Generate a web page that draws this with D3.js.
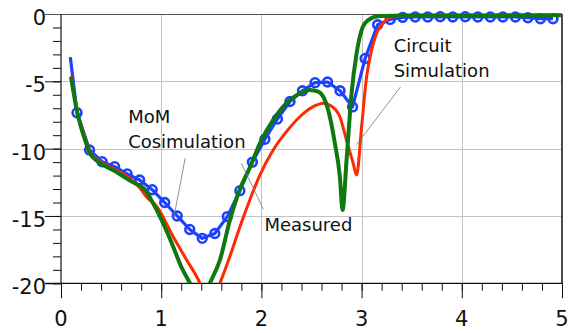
<!DOCTYPE html>
<html>
<head>
<meta charset="utf-8">
<script src="https://cdn.jsdelivr.net/npm/d3@7"></script>
<style>
  html, body { margin: 0; padding: 0; background: #fff; }
  svg { display: block; }
  text { font-family: "DejaVu Sans", sans-serif; }
</style>
</head>
<body>
<svg id="chart" width="570" height="333"></svg>
<script>
// ---- data ----
const xTicks = [0, 1, 2, 3, 4, 5];
const yTicks = [-20, -15, -10, -5, 0];
const xTickLabels = ["0", "1", "2", "3", "4", "5"];
const yTickLabels = ["-20", "-15", "-10", "-5", "0"];

// MoM Cosimulation (blue, markers on every point except the first)
const momX = [0.093, 0.16, 0.285, 0.41, 0.535, 0.66, 0.785, 0.91, 1.035, 1.16, 1.285, 1.41, 1.535, 1.66, 1.785, 1.91, 2.035, 2.16, 2.285, 2.41, 2.535, 2.66, 2.785, 2.91, 3.035, 3.16, 3.285, 3.41, 3.535, 3.66, 3.785, 3.91, 4.035, 4.16, 4.285, 4.41, 4.535, 4.66, 4.785, 4.91];
const momY = [-3.2, -7.33, -10.1, -10.97, -11.34, -11.88, -12.33, -13.05, -14.0, -15.0, -16.0, -16.66, -16.3, -15.05, -13.12, -11.0, -9.3, -7.8, -6.5, -5.7, -5.1, -5.05, -5.7, -6.9, -3.3, -0.8, -0.4, -0.25, -0.22, -0.22, -0.2, -0.22, -0.2, -0.22, -0.22, -0.22, -0.22, -0.28, -0.35, -0.35];

// Measured (green)
const measX = [0.10, 0.157, 0.24, 0.29, 0.37, 0.52, 0.705, 0.84, 0.92, 1.02, 1.12, 1.20, 1.287, 1.35, 1.43, 1.486, 1.586, 1.686, 1.786, 1.885, 1.985, 2.118, 2.25, 2.384, 2.484, 2.567, 2.633, 2.683, 2.733, 2.783, 2.81, 2.85, 2.90, 2.95, 3.0, 3.065, 3.18, 3.5, 4.0, 4.5, 5.0];
const measY = [-4.7, -7.13, -9.36, -10.35, -10.97, -11.59, -12.45, -13.07, -14.06, -15.55, -17.28, -18.77, -20, -21, -21, -20, -18.27, -15.3, -13.0, -11.4, -9.6, -7.87, -6.63, -5.89, -5.64, -5.77, -6.39, -7.63, -9.6, -12.08, -14.56, -10.84, -5.89, -2.92, -1.19, -0.45, -0.15, -0.12, -0.12, -0.1, -0.1];

// Circuit Simulation (red)
const circX = [0.10, 0.157, 0.24, 0.29, 0.37, 0.52, 0.72, 0.79, 0.855, 0.955, 1.12, 1.254, 1.387, 1.44, 1.53, 1.586, 1.686, 1.786, 1.885, 1.985, 2.118, 2.25, 2.384, 2.517, 2.617, 2.70, 2.783, 2.85, 2.916, 2.95, 3.0, 3.05, 3.10, 3.15, 3.215, 3.31, 3.6, 4.0, 4.5, 5.0];
const circY = [-4.6, -7.0, -9.2, -10.2, -10.85, -11.45, -12.4, -12.95, -13.6, -14.3, -16.54, -18.27, -20, -21, -21, -20, -18.0, -15.8, -13.8, -11.96, -10.1, -8.74, -7.63, -6.88, -6.63, -6.85, -7.63, -9.4, -11.09, -11.96, -8.37, -4.66, -2.67, -1.43, -0.69, -0.2, -0.1, -0.1, -0.1, -0.1];

// annotations: text lines, text anchor (data units), leader line from/to (data units)
const annoText = [["MoM", "Cosimulation"], ["Measured"], ["Circuit", "Simulation"]];
const annoPos = [[0.67, -8.1], [2.03, -16.1], [3.32, -2.8]];
const annoLeadFrom = [[1.24, -10.7], [1.80, -11.1], [3.39, -5.4]];
const annoLeadTo = [[1.12, -15.35], [2.02, -14.5], [2.95, -9.7]];

// ---- chart ----
const svg = d3.select("#chart");
const L = 61, R = 562, T = 14, B = 283.3;
const x = d3.scaleLinear().domain([0, 5]).range([L, R]);
const y = d3.scaleLinear().domain([-20, 0]).range([B, T]);

// grid
const grid = svg.append("g").attr("stroke", "#c4c4c4").attr("stroke-width", 1);
grid.selectAll("line.v").data([1, 2, 3, 4]).join("line")
  .attr("x1", d => Math.round(x(d)) + 0.5).attr("x2", d => Math.round(x(d)) + 0.5)
  .attr("y1", T).attr("y2", B);
grid.selectAll("line.h").data([-5, -10, -15]).join("line")
  .attr("y1", d => Math.round(y(d)) + 0.5).attr("y2", d => Math.round(y(d)) + 0.5)
  .attr("x1", L).attr("x2", R);

// axes
const xAxisMinor = d3.axisBottom(x).tickValues(d3.range(0, 5.001, 0.2)).tickSize(7.5).tickFormat("");
const xAxisMajor = d3.axisBottom(x).tickValues(xTicks).tickSize(15).tickFormat("");
const yAxisMinor = d3.axisLeft(y).tickValues(d3.range(-20, 0.001, 1)).tickSize(8).tickFormat("");
const yAxisMajor = d3.axisLeft(y).tickValues(yTicks).tickSize(16).tickFormat("");

function styleAxis(g) {
  g.select(".domain").remove();
  g.selectAll(".tick line").attr("stroke", "#111").attr("stroke-width", 1);
}
svg.append("g").attr("transform", `translate(0,${B})`).call(xAxisMinor).call(styleAxis);
svg.append("g").attr("transform", `translate(0,${B})`).call(xAxisMajor).call(styleAxis);
svg.append("g").attr("transform", `translate(${L},0)`).call(yAxisMinor).call(styleAxis);
svg.append("g").attr("transform", `translate(${L},0)`).call(yAxisMajor).call(styleAxis);

// frame
svg.append("line").attr("x1", L - 16).attr("x2", R).attr("y1", T + 0.5).attr("y2", T + 0.5).attr("stroke", "#555").attr("stroke-width", 1.2);
svg.append("line").attr("x1", L).attr("x2", L).attr("y1", T).attr("y2", B).attr("stroke", "#111").attr("stroke-width", 1.2);
svg.append("line").attr("x1", L - 16).attr("x2", R).attr("y1", B).attr("y2", B).attr("stroke", "#111").attr("stroke-width", 1.2);
svg.append("line").attr("x1", R).attr("x2", R).attr("y1", T).attr("y2", B).attr("stroke", "#111").attr("stroke-width", 1.5);

// tick labels
svg.append("g").selectAll("text").data(xTicks).join("text")
  .attr("x", d => x(d)).attr("y", 325.5).attr("text-anchor", "middle")
  .attr("font-size", 21).attr("fill", "#111").text((d, i) => xTickLabels[i]);
svg.append("g").selectAll("text").data(yTicks).join("text")
  .attr("x", 46).attr("y", d => y(d) + 11).attr("text-anchor", "end")
  .attr("font-size", 21).attr("fill", "#111").text((d, i) => yTickLabels[i]);

// clip
svg.append("clipPath").attr("id", "clip").append("rect")
  .attr("x", L).attr("y", T - 3).attr("width", R - L).attr("height", B - T + 3);
const plot = svg.append("g").attr("clip-path", "url(#clip)");

const line = d3.line().x(d => x(d[0])).y(d => y(d[1])).curve(d3.curveMonotoneX);
const lineLin = d3.line().x(d => x(d[0])).y(d => y(d[1]));

const momPts = momX.map((v, i) => [v, momY[i]]);
const measPts = measX.map((v, i) => [v, measY[i]]);
const circPts = circX.map((v, i) => [v, circY[i]]);

plot.append("path").datum(momPts).attr("d", lineLin)
  .attr("fill", "none").attr("stroke", "#1e40ff").attr("stroke-width", 3.2).attr("stroke-linejoin", "round");
plot.append("g").selectAll("circle").data(momPts.slice(1)).join("circle")
  .attr("cx", d => x(d[0])).attr("cy", d => y(d[1])).attr("r", 4.4)
  .attr("fill", "none").attr("stroke", "#1e40ff").attr("stroke-width", 2.6);
plot.append("path").datum(circPts).attr("d", line)
  .attr("fill", "none").attr("stroke", "#ff2a00").attr("stroke-width", 3).attr("stroke-linejoin", "round");
plot.append("path").datum(measPts).attr("d", line)
  .attr("fill", "none").attr("stroke", "#0f780f").attr("stroke-width", 4).attr("stroke-linejoin", "round");

// annotations
annoText.forEach((lines, i) => {
  svg.append("line")
    .attr("x1", x(annoLeadFrom[i][0])).attr("y1", y(annoLeadFrom[i][1]))
    .attr("x2", x(annoLeadTo[i][0])).attr("y2", y(annoLeadTo[i][1]))
    .attr("stroke", "#777").attr("stroke-width", 0.8);
  const t = svg.append("text").attr("font-size", 18).attr("fill", "#111");
  lines.forEach((s, j) => {
    t.append("tspan").attr("x", x(annoPos[i][0])).attr("y", y(annoPos[i][1]) + j * 25).text(s);
  });
});
</script>
</body>
</html>
